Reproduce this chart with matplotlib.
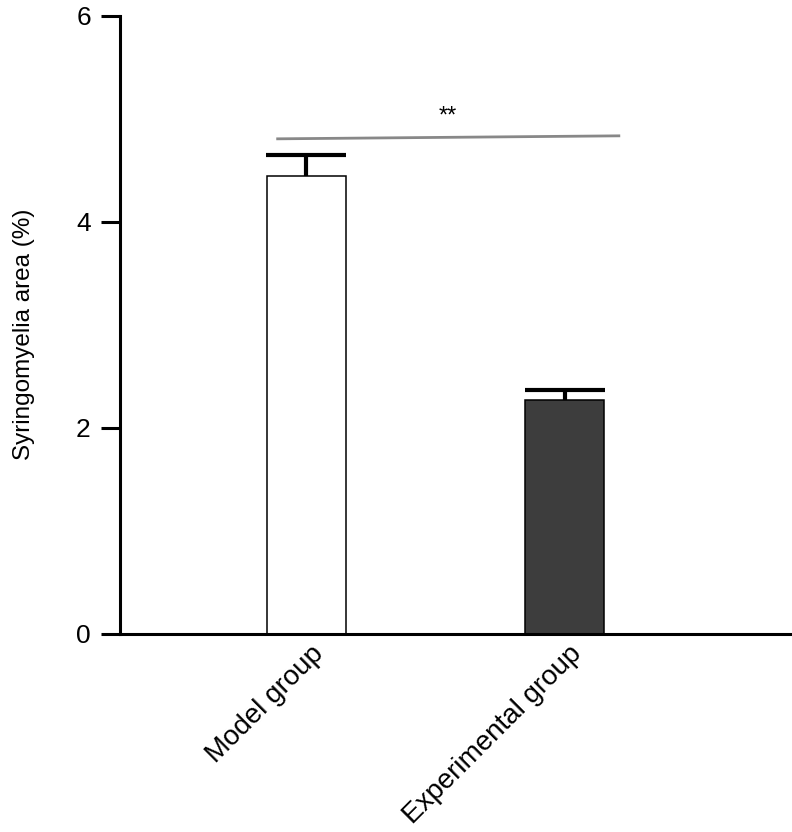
import matplotlib
matplotlib.use('Agg')
import matplotlib.pyplot as plt
import matplotlib.transforms as mtransforms
import numpy as np

plt.rcParams['font.family'] = ['Liberation Sans', 'DejaVu Sans']

# data
groups = ['Model group', 'Experimental group']
means = [4.45, 2.27]
sem = [0.20, 0.10]
bar_colors = ['white', '#3d3d3d']
sig_label = '**'
sig_left, sig_right = 4.806, 4.835
yticks = [0, 2, 4, 6]

fig = plt.figure(figsize=(7.92, 8.32), dpi=100)
ax = fig.add_axes([0.1515, 0.238, 0.8485, 0.743])

x = np.arange(len(groups))
ax.bar(x, means, width=0.306, color=bar_colors, edgecolor='black', linewidth=1.1, zorder=2)
_, caps, _ = ax.errorbar(x, means, yerr=[[0] * len(sem), sem], fmt='none', ecolor='black',
                         elinewidth=3, capsize=29, capthick=3, zorder=3)
caps[0].set_visible(False)  # only the upper cap

# significance line
ax.plot([x[0] - 0.11, x[1] + 0.21], [sig_left, sig_right], color='#888888', lw=2, zorder=1)
ax.text(x[0] + 0.547, sig_right + 0.13, sig_label, ha='center', va='baseline', fontsize=17)

ax.set_xlim(-0.72, 1.88)
ax.set_ylim(0, 6)
ax.set_yticks(yticks)
ax.set_yticklabels([str(t) for t in yticks], fontsize=19)
ax.tick_params(axis='y', length=14, width=2.2, pad=7)
ax.tick_params(axis='x', length=0, pad=5)
ax.set_xticks(x)
ax.set_xticklabels(groups, fontsize=20, rotation=45, ha='right', va='top', rotation_mode='anchor')
offset = mtransforms.ScaledTranslation(0.04, 0, fig.dpi_scale_trans)
for lbl in ax.get_xticklabels():
    lbl.set_transform(lbl.get_transform() + offset)

for side in ['top', 'right']:
    ax.spines[side].set_visible(False)
ax.spines['left'].set_linewidth(2.2)
ax.spines['bottom'].set_linewidth(2.2)

ax.set_ylabel('Syringomyelia area (%)', fontsize=17.5)
ax.yaxis.set_label_coords(-0.126, 0.485)

fig.savefig('out.png', dpi=100)
